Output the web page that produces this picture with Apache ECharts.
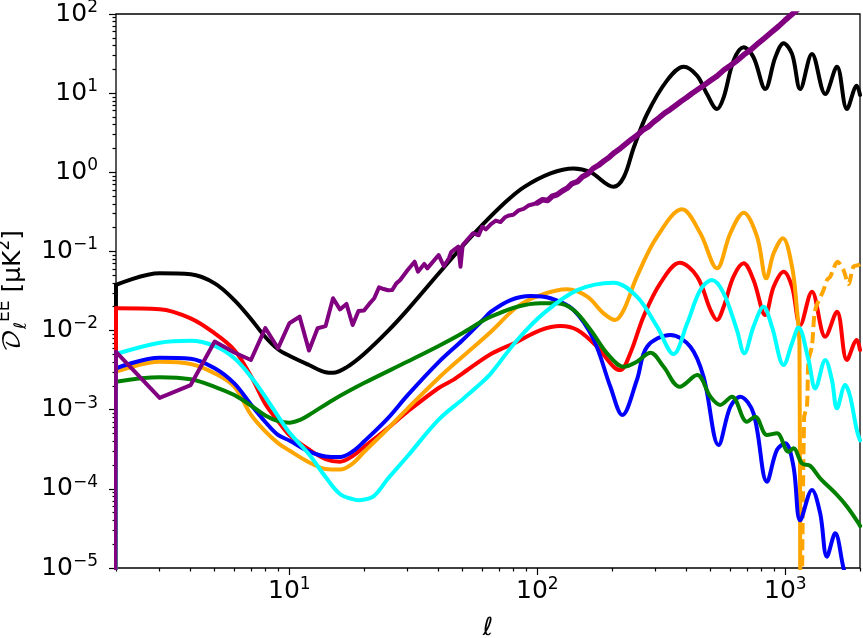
<!DOCTYPE html>
<html>
<head>
<meta charset="utf-8">
<script src="https://cdn.jsdelivr.net/npm/echarts@6/dist/echarts.min.js"></script>
<style>
  html, body { margin: 0; padding: 0; background: #fff; }
  #main { width: 863px; height: 638px; }
</style>
</head>
<body>
<div id="main"></div>
<script>
// EE spectra: multipole ell and D_ell^EE [muK^2]
const blackEll = [2, 3, 4, 5, 6, 7, 8, 9, 10, 12, 14, 15, 17, 20, 25, 30, 40, 50, 60, 73, 88, 113, 140, 164, 203, 223, 245, 277, 333, 389, 441, 483, 530, 564, 618, 679, 744, 830, 911, 984, 1064, 1148, 1280, 1449, 1615, 1771, 1942, 2000]
const blackVal = [0.0377, 0.0529, 0.0514, 0.0395, 0.0243, 0.0140, 0.0083, 0.0058, 0.0048, 0.00367, 0.00298, 0.00293, 0.00343, 0.00506, 0.0099, 0.0184, 0.0526, 0.117, 0.216, 0.397, 0.645, 0.97, 1.12, 1.0, 0.657, 0.865, 2.07, 5.45, 14.4, 21.6, 16.6, 9.75, 6.3, 8.85, 25.7, 38.0, 28.4, 11.3, 28.4, 42.7, 31.3, 11.3, 31.3, 9.75, 21.6, 6.3, 12.4, 9.5]

const redEll = [2, 3, 4, 5, 6, 7, 8, 9, 10, 12, 14, 16, 18, 20, 25, 30, 40, 46, 50, 65, 83, 103, 124, 145, 174, 203, 216, 237, 268, 313, 375, 441, 499, 530, 564, 618, 679, 744, 830, 897, 984, 1064, 1148, 1280, 1449, 1615, 1771, 1942, 2000]
const redVal = [0.0191, 0.0186, 0.01426, 0.00922, 0.00568, 0.00266, 0.00118, 0.00072, 0.00048, 0.000314, 0.000238, 0.00022, 0.00026, 0.000338, 0.000587, 0.00095, 0.00188, 0.0024, 0.00288, 0.00506, 0.00723, 0.01016, 0.01142, 0.01016, 0.00625, 0.00349, 0.00317, 0.00516, 0.0150, 0.0395, 0.0719, 0.048, 0.0182, 0.0136, 0.020, 0.048, 0.0708, 0.0435, 0.0157, 0.0358, 0.0555, 0.0358, 0.01175, 0.031, 0.00836, 0.0173, 0.00425, 0.0076, 0.0057]

// orange goes negative near ell ~ 1150; the dashed part is |D|
const orangeEll = [2, 3, 4, 5, 6, 7, 8, 9, 10, 12, 14, 16, 18, 20, 25, 30, 40, 50, 65, 83, 103, 132, 159, 185, 206, 223, 252, 304, 383, 454, 530, 600, 679, 769, 838, 897, 977, 1064, 1114, 1140, 1150]
const orangeVal = [0.00302, 0.00404, 0.00378, 0.00288, 0.00195, 0.000865, 0.000531, 0.000378, 0.000305, 0.000217, 0.000178, 0.000175, 0.000209, 0.000292, 0.000578, 0.00104, 0.00252, 0.0047, 0.00969, 0.020, 0.0281, 0.0332, 0.0268, 0.0165, 0.0136, 0.0182, 0.048, 0.1535, 0.34, 0.1695, 0.0612, 0.1695, 0.308, 0.1535, 0.0457, 0.0946, 0.1465, 0.0641, 0.0182, 0.0065, 1e-7]
const orangeNegEll = [1155, 1190, 1222, 1240, 1280, 1320, 1426, 1471, 1517, 1626, 1716, 1797, 1883, 1972, 2000]
const orangeNegVal = [1e-7, 0.0008, 0.0011, 0.0042, 0.0063, 0.0182, 0.0325, 0.0435, 0.048, 0.074, 0.058, 0.0387, 0.0644, 0.0673, 0.069]

const cyanEll = [2, 3, 4, 5, 6, 7, 8, 9, 10, 12, 14, 16, 18, 19, 20, 22, 25, 30, 40, 50, 60, 65, 83, 106, 145, 203, 252, 304, 354, 402, 454, 506, 564, 638, 683, 744, 817, 883, 984, 1064, 1130, 1240, 1320, 1449, 1541, 1615, 1743, 1822, 1942, 2000]
const cyanVal = [0.00506, 0.00703, 0.00745, 0.00638, 0.00446, 0.00261, 0.00145, 0.00083, 0.000515, 0.000274, 0.000141, 8.6e-5, 7.4e-5, 7.2e-5, 7.3e-5, 8.2e-5, 0.000135, 0.00026, 0.00075, 0.00136, 0.00224, 0.00288, 0.0076, 0.0165, 0.0325, 0.0403, 0.0268, 0.0112, 0.00506, 0.01236, 0.0325, 0.0435, 0.0296, 0.01016, 0.00516, 0.0112, 0.020, 0.0112, 0.00367, 0.0069, 0.01094, 0.00425, 0.00186, 0.00425, 0.00237, 0.00104, 0.00205, 0.0015, 0.00055, 0.00041]

const blueEll = [2, 3, 4, 5, 6, 7, 8, 9, 10, 12, 14, 16, 18, 20, 25, 30, 40, 50, 60, 65, 78, 94, 113, 140, 169, 197, 220, 252, 277, 344, 414, 468, 538, 600, 658, 744, 843, 925, 1000, 1079, 1148, 1280, 1382, 1471, 1589, 1716, 1800, 2000]
const blueVal = [0.00334, 0.00454, 0.00441, 0.00334, 0.00215, 0.00116, 0.0007, 0.00048, 0.000408, 0.000297, 0.000256, 0.000252, 0.000297, 0.000396, 0.000785, 0.00153, 0.004, 0.0076, 0.0134, 0.0173, 0.0243, 0.0273, 0.0256, 0.0182, 0.0076, 0.00195, 0.000857, 0.00237, 0.00625, 0.00879, 0.00625, 0.00261, 0.000358, 0.00109, 0.00146, 0.0009, 0.000123, 0.00031, 0.000376, 0.00019, 4.0e-5, 9.7e-5, 4.9e-5, 1.39e-5, 2.74e-5, 1.0e-5, 6e-6, 3e-6]

const greenEll = [2, 3, 4, 5, 6, 7, 8, 9, 10, 11, 12, 15, 20, 30, 40, 50, 60, 65, 83, 103, 120, 140, 164, 191, 223, 252, 286, 323, 375, 441, 499, 546, 609, 700, 756, 843, 925, 1030, 1079, 1167, 1260, 1382, 1615, 1771, 1972, 2000]
const greenVal = [0.00226, 0.00257, 0.00242, 0.00195, 0.00153, 0.00113, 0.000845, 0.00072, 0.000685, 0.00074, 0.000857, 0.00133, 0.00217, 0.00406, 0.00638, 0.0093, 0.0132, 0.015, 0.020, 0.0221, 0.0221, 0.0182, 0.0102, 0.00516, 0.00349, 0.00404, 0.00525, 0.00349, 0.00195, 0.00274, 0.00146, 0.00115, 0.00146, 0.000705, 0.000816, 0.00048, 0.000503, 0.000294, 0.000325, 0.00021, 0.000195, 0.000136, 8.4e-5, 6.0e-5, 3.7e-5, 3.4e-5]

// noise curve (jagged, not smoothed)
const purpleEll = [2, 3, 4, 5, 6, 7, 8, 9, 10, 11, 12, 13, 14, 15, 16, 17, 18, 19, 20, 21, 22, 23, 24, 25, 26, 27, 28, 30, 32, 33, 35, 36, 40, 42, 44, 45, 48, 49, 50, 55, 58, 60, 62, 65, 68, 71, 74, 77, 80, 84, 88, 92, 96, 100, 105, 110, 115, 120, 126, 132, 138, 145, 152, 160, 168, 176, 185, 195, 205, 216, 228, 240, 253, 266, 280, 295, 310, 326, 343, 361, 380, 400, 420, 445, 470, 500, 530, 565, 600, 640, 680, 723, 770, 820, 880, 940, 1000, 1060, 1130, 1200]
const purpleVal = [0.0054, 0.00141, 0.00205, 0.00728, 0.00528, 0.00425, 0.01076, 0.00597, 0.01236, 0.01497, 0.0056, 0.0107, 0.0114, 0.0256, 0.0185, 0.0217, 0.01175, 0.0177, 0.0179, 0.0217, 0.0256, 0.0352, 0.0335, 0.0323, 0.0325, 0.0395, 0.0435, 0.0582, 0.0741, 0.0555, 0.0694, 0.0611, 0.090, 0.065, 0.082, 0.099, 0.115, 0.064, 0.12, 0.17, 0.16, 0.205, 0.19, 0.222, 0.245, 0.235, 0.27, 0.285, 0.29, 0.33, 0.345, 0.38, 0.395, 0.41, 0.45, 0.44, 0.50, 0.52, 0.58, 0.63, 0.72, 0.76, 0.88, 0.96, 1.12, 1.22, 1.38, 1.55, 1.78, 2.0, 2.3, 2.62, 2.95, 3.4, 3.75, 4.35, 4.9, 5.6, 6.2, 7.0, 7.9, 8.8, 9.9, 11.2, 12.6, 14.5, 16.4, 19.6, 22.3, 25.9, 30.5, 35, 41.5, 49, 59, 70, 84, 98, 117, 137]
// above this ell the noise scatter makes the purple band look thicker
const purpleDenseFrom = 100

// ell = 1 is zero in the source; a tiny stand-in keeps it on the log axis
const zeroEll = 1
const zeroVal = 1e-300

// ticks
const xMajor = [10, 100, 1000]
const xMinor = [2, 3, 4, 5, 6, 7, 8, 9, 20, 30, 40, 50, 60, 70, 80, 90, 200, 300, 400, 500, 600, 700, 800, 900, 2000]
const yDecades = [1e-5, 1e-4, 1e-3, 1e-2, 1e-1, 1, 10, 100]
const mantissas = [2, 3, 4, 5, 6, 7, 8, 9]

const FONT = "'DejaVu Sans', sans-serif"
const LW = 4
const yMinor = []
yDecades.slice(0, -1).forEach(d => mantissas.forEach(m => yMinor.push(+(m * d).toPrecision(3))))

const tickRich = {
  b: { fontFamily: FONT, fontSize: 25, color: '#000', lineHeight: 30 },
  s: { fontFamily: FONT, fontSize: 17, color: '#000', lineHeight: 18, verticalAlign: 'top' }
}

function powLabel(v) {
  const e = Math.round(Math.log10(v))
  return '{b|10}{s|' + (e < 0 ? '\u2212' + (-e) : e) + '}'
}

function pairs(ell, val) {
  return ell.map((l, i) => [l, val[i]])
}

function lineSeries(data, color, extra) {
  return Object.assign({
    type: 'line',
    data: data,
    symbol: 'none',
    silent: true,
    animation: false,
    clip: true,
    lineStyle: { color: color, width: LW, cap: 'round', join: 'round' }
  }, extra || {})
}

// each curve: a straight drop to ell=1 at the left edge, then the curve itself
function curve(ell, val, color, smooth) {
  return [
    lineSeries([[zeroEll, zeroVal], [ell[0], val[0]]], color),
    lineSeries(pairs(ell, val), color, { smooth: smooth })
  ]
}

const purplePts = pairs(purpleEll, purpleVal)
const purpleSplit = purpleEll.indexOf(purpleDenseFrom)

const series = [].concat(
  curve(blackEll, blackVal, '#000000', 0.35),
  curve(redEll, redVal, '#ff0000', 0.35),
  curve(orangeEll, orangeVal, '#ffa500', 0.35),
  [lineSeries(pairs(orangeNegEll, orangeNegVal), '#ffa500', {
    smooth: 0.3,
    lineStyle: { color: '#ffa500', width: LW, type: [11, 5] }
  })],
  curve(blueEll, blueVal, '#0000ff', 0.35),
  curve(greenEll, greenVal, '#008000', 0.35),
  curve(cyanEll, cyanVal, '#00ffff', 0.35),
  [
    lineSeries([[zeroEll, zeroVal], purplePts[0]], '#800080'),
    lineSeries(purplePts.slice(0, purpleSplit + 1), '#800080'),
    lineSeries(purplePts.slice(purpleSplit), '#800080', {
      lineStyle: { color: '#800080', width: 5.6, cap: 'round', join: 'round' }
    })
  ]
)

function logAxis(min, max, extra) {
  return Object.assign({
    type: 'log',
    logBase: 10,
    min: min,
    max: max,
    axisLine: { show: false },
    splitLine: { show: false },
    minorTick: { show: false },
    minorSplitLine: { show: false }
  }, extra)
}

const tickStyle = { color: '#000', width: 1.2 }

const option = {
  backgroundColor: '#fff',
  animation: false,
  grid: {
    left: 116, top: 14, width: 744, height: 554,
    show: true, borderColor: '#000', borderWidth: 1.3,
    backgroundColor: 'transparent',
    outerBoundsMode: 'none'
  },
  xAxis: [
    logAxis(2, 2000, {
      position: 'bottom',
      axisTick: { show: true, inside: false, length: 7, customValues: xMajor, lineStyle: tickStyle },
      axisLabel: { show: true, customValues: xMajor, formatter: powLabel, margin: 8, rich: tickRich },
      name: '\u2113',
      nameLocation: 'middle',
      nameGap: 48,
      nameTextStyle: { fontFamily: FONT, fontSize: 25, color: '#000' }
    }),
    logAxis(2, 2000, {
      position: 'bottom',
      axisTick: { show: true, inside: false, length: 3.5, customValues: xMinor, lineStyle: tickStyle },
      axisLabel: { show: false }
    })
  ],
  yAxis: [
    logAxis(1e-5, 100, {
      position: 'left',
      axisTick: { show: true, inside: false, length: 7, customValues: yDecades, lineStyle: tickStyle },
      axisLabel: { show: true, customValues: yDecades, formatter: powLabel, margin: 18, rich: tickRich },
      name: '{d|\uD835\uDC9F}{sub|\u2113}{sup|EE} [\u03BCK{sup|2}]',
      nameLocation: 'middle',
      nameGap: 86,
      nameTextStyle: {
        fontFamily: FONT, fontSize: 25, color: '#000', lineHeight: 34,
        rich: {
          d: { fontFamily: "'DejaVu Math TeX Gyre', 'DejaVu Sans'", fontSize: 25, lineHeight: 34 },
          sub: { fontFamily: FONT, fontSize: 17, lineHeight: 20, verticalAlign: 'bottom' },
          sup: { fontFamily: FONT, fontSize: 17, lineHeight: 20, verticalAlign: 'top' }
        }
      }
    }),
    logAxis(1e-5, 100, {
      position: 'left',
      axisTick: { show: true, inside: false, length: 3.5, customValues: yMinor, lineStyle: tickStyle },
      axisLabel: { show: false }
    })
  ],
  series: series
}

const chart = echarts.init(document.getElementById('main'), null, { renderer: 'canvas' })
chart.setOption(option)
</script>
</body>
</html>
